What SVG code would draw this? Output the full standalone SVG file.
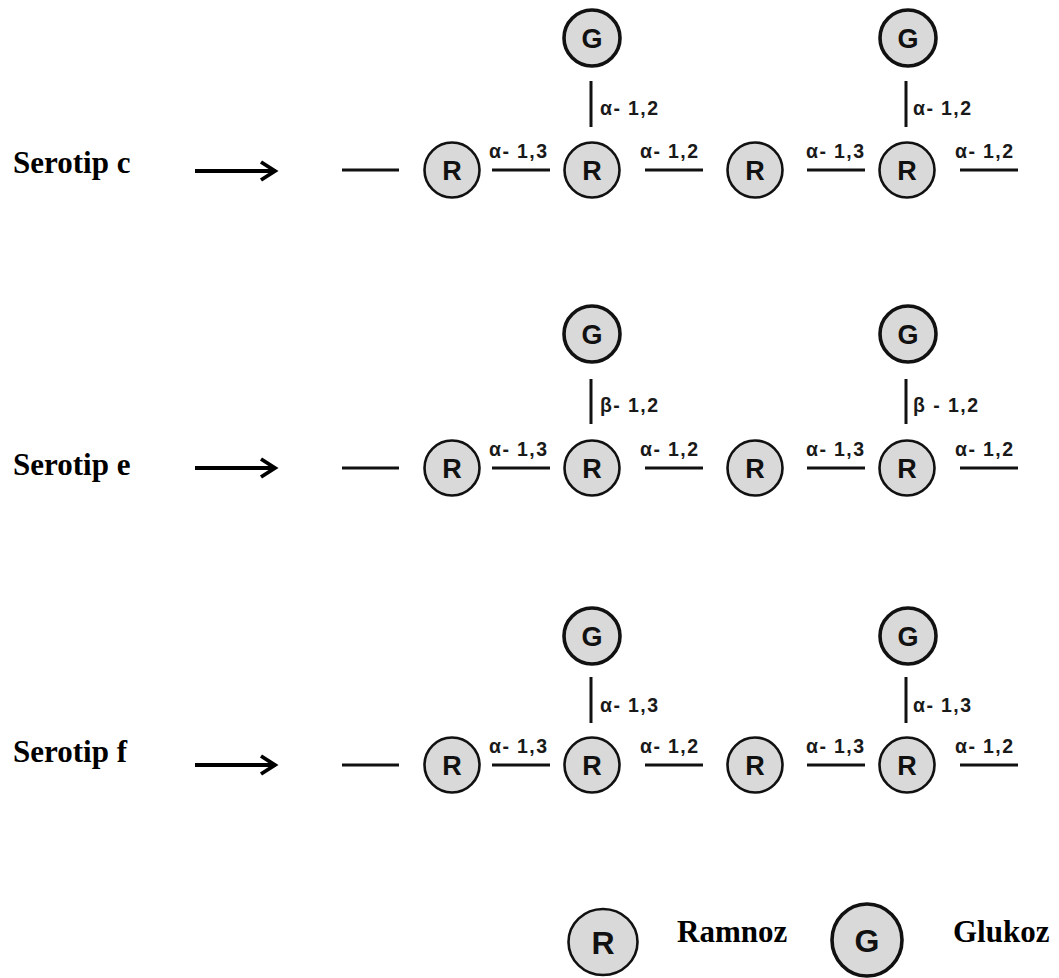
<svg xmlns="http://www.w3.org/2000/svg" width="1059" height="978" viewBox="0 0 1059 978">
<style>
.bg{fill:#ffffff}
.r{fill:#d9d9d9;stroke:#111;stroke-width:2.6}
.g{fill:#d9d9d9;stroke:#111;stroke-width:3.6}
.lt{font-family:"Liberation Sans",Arial,sans-serif;font-weight:bold;font-size:27px;fill:#111;text-anchor:middle}
.lg{font-family:"Liberation Sans",Arial,sans-serif;font-weight:bold;font-size:32px;fill:#111;text-anchor:middle}
.lab{font-family:"Liberation Sans",Arial,sans-serif;font-weight:bold;font-size:19.5px;fill:#1a1a1a}
.ser{font-family:"Liberation Serif","Times New Roman",serif;font-weight:bold;font-size:31px;fill:#000}
.ln{stroke:#111;stroke-width:3;fill:none}
.ar{stroke:#000;stroke-width:3.8;fill:none;stroke-linecap:butt;stroke-linejoin:miter}
</style>
<rect class="bg" x="0" y="0" width="1059" height="978"/>

<!-- Connectors -->
<g id="connectors">
  <!-- Row c -->
  <line class="ar" x1="195" y1="171" x2="274" y2="171"/>
  <polyline class="ar" points="261,162 275,171 261,180"/>
  <line class="ln" x1="342" y1="170" x2="399" y2="170"/>
  <line class="ln" x1="492" y1="170" x2="550" y2="170"/>
  <line class="ln" x1="645" y1="170" x2="703" y2="170"/>
  <line class="ln" x1="807" y1="170" x2="865" y2="170"/>
  <line class="ln" x1="960" y1="170" x2="1018" y2="170"/>
  <line class="ln" x1="591" y1="81" x2="591" y2="127"/>
  <line class="ln" x1="906" y1="81" x2="906" y2="127"/>
  <text class="lab" x="489" y="158" textLength="58">α- 1,3</text>
  <text class="lab" x="640" y="158" textLength="58">α- 1,2</text>
  <text class="lab" x="806" y="158" textLength="58">α- 1,3</text>
  <text class="lab" x="955" y="158" textLength="58">α- 1,2</text>
  <text class="lab" x="600" y="115" textLength="58">α- 1,2</text>
  <text class="lab" x="913" y="115" textLength="58">α- 1,2</text>

  <!-- Row e -->
  <line class="ar" x1="195" y1="468" x2="274" y2="468"/>
  <polyline class="ar" points="261,459 275,468 261,477"/>
  <line class="ln" x1="342" y1="468" x2="399" y2="468"/>
  <line class="ln" x1="492" y1="468" x2="550" y2="468"/>
  <line class="ln" x1="645" y1="468" x2="703" y2="468"/>
  <line class="ln" x1="807" y1="468" x2="865" y2="468"/>
  <line class="ln" x1="960" y1="468" x2="1018" y2="468"/>
  <line class="ln" x1="591" y1="379" x2="591" y2="424"/>
  <line class="ln" x1="906" y1="379" x2="906" y2="424"/>
  <text class="lab" x="489" y="456" textLength="58">α- 1,3</text>
  <text class="lab" x="640" y="456" textLength="58">α- 1,2</text>
  <text class="lab" x="806" y="456" textLength="58">α- 1,3</text>
  <text class="lab" x="955" y="456" textLength="58">α- 1,2</text>
  <text class="lab" x="600" y="412" textLength="58">β- 1,2</text>
  <text class="lab" x="913" y="412" textLength="65">β - 1,2</text>

  <!-- Row f -->
  <line class="ar" x1="195" y1="765" x2="274" y2="765"/>
  <polyline class="ar" points="261,756 275,765 261,774"/>
  <line class="ln" x1="342" y1="765" x2="399" y2="765"/>
  <line class="ln" x1="492" y1="765" x2="550" y2="765"/>
  <line class="ln" x1="645" y1="765" x2="703" y2="765"/>
  <line class="ln" x1="807" y1="765" x2="865" y2="765"/>
  <line class="ln" x1="960" y1="765" x2="1018" y2="765"/>
  <line class="ln" x1="591" y1="677" x2="591" y2="723"/>
  <line class="ln" x1="906" y1="677" x2="906" y2="723"/>
  <text class="lab" x="489" y="753" textLength="58">α- 1,3</text>
  <text class="lab" x="640" y="753" textLength="58">α- 1,2</text>
  <text class="lab" x="806" y="753" textLength="58">α- 1,3</text>
  <text class="lab" x="955" y="753" textLength="58">α- 1,2</text>
  <text class="lab" x="600" y="712" textLength="58">α- 1,3</text>
  <text class="lab" x="913" y="712" textLength="58">α- 1,3</text>
</g>

<!-- Row labels -->
<g id="label-c"><text class="ser" x="13" y="173">Serotip c</text></g>
<g id="label-e"><text class="ser" x="13" y="475">Serotip e</text></g>
<g id="label-f"><text class="ser" x="13" y="762">Serotip f</text></g>

<!-- Row c nodes -->
<g id="c-R1"><circle class="r" cx="452" cy="170" r="27.5"/><text class="lt" x="452" y="180">R</text></g>
<g id="c-R2"><circle class="r" cx="592" cy="170" r="27.5"/><text class="lt" x="592" y="180">R</text></g>
<g id="c-R3"><circle class="r" cx="755" cy="170" r="27.5"/><text class="lt" x="755" y="180">R</text></g>
<g id="c-R4"><circle class="r" cx="907" cy="170" r="27.5"/><text class="lt" x="907" y="180">R</text></g>
<g id="c-G1"><circle class="g" cx="592" cy="38" r="28"/><text class="lt" x="592" y="48">G</text></g>
<g id="c-G2"><circle class="g" cx="908" cy="38" r="28"/><text class="lt" x="908" y="48">G</text></g>

<!-- Row e nodes -->
<g id="e-R1"><circle class="r" cx="452" cy="468" r="27.5"/><text class="lt" x="452" y="478">R</text></g>
<g id="e-R2"><circle class="r" cx="592" cy="468" r="27.5"/><text class="lt" x="592" y="478">R</text></g>
<g id="e-R3"><circle class="r" cx="755" cy="468" r="27.5"/><text class="lt" x="755" y="478">R</text></g>
<g id="e-R4"><circle class="r" cx="907" cy="468" r="27.5"/><text class="lt" x="907" y="478">R</text></g>
<g id="e-G1"><circle class="g" cx="592" cy="334" r="28"/><text class="lt" x="592" y="344">G</text></g>
<g id="e-G2"><circle class="g" cx="908" cy="334" r="28"/><text class="lt" x="908" y="344">G</text></g>

<!-- Row f nodes -->
<g id="f-R1"><circle class="r" cx="452" cy="765" r="27.5"/><text class="lt" x="452" y="775">R</text></g>
<g id="f-R2"><circle class="r" cx="592" cy="765" r="27.5"/><text class="lt" x="592" y="775">R</text></g>
<g id="f-R3"><circle class="r" cx="755" cy="765" r="27.5"/><text class="lt" x="755" y="775">R</text></g>
<g id="f-R4"><circle class="r" cx="907" cy="765" r="27.5"/><text class="lt" x="907" y="775">R</text></g>
<g id="f-G1"><circle class="g" cx="592" cy="636" r="28"/><text class="lt" x="592" y="646">G</text></g>
<g id="f-G2"><circle class="g" cx="908" cy="636" r="28"/><text class="lt" x="908" y="646">G</text></g>

<!-- Legend -->
<g id="legend-R"><ellipse class="r" cx="603" cy="942" rx="34.5" ry="33"/><text class="lg" x="603" y="954">R</text><text class="ser" x="677" y="942">Ramnoz</text></g>
<g id="legend-G"><ellipse class="g" cx="867" cy="940" rx="35" ry="36"/><text class="lg" x="867" y="952">G</text><text class="ser" x="953" y="942">Glukoz</text></g>
</svg>
